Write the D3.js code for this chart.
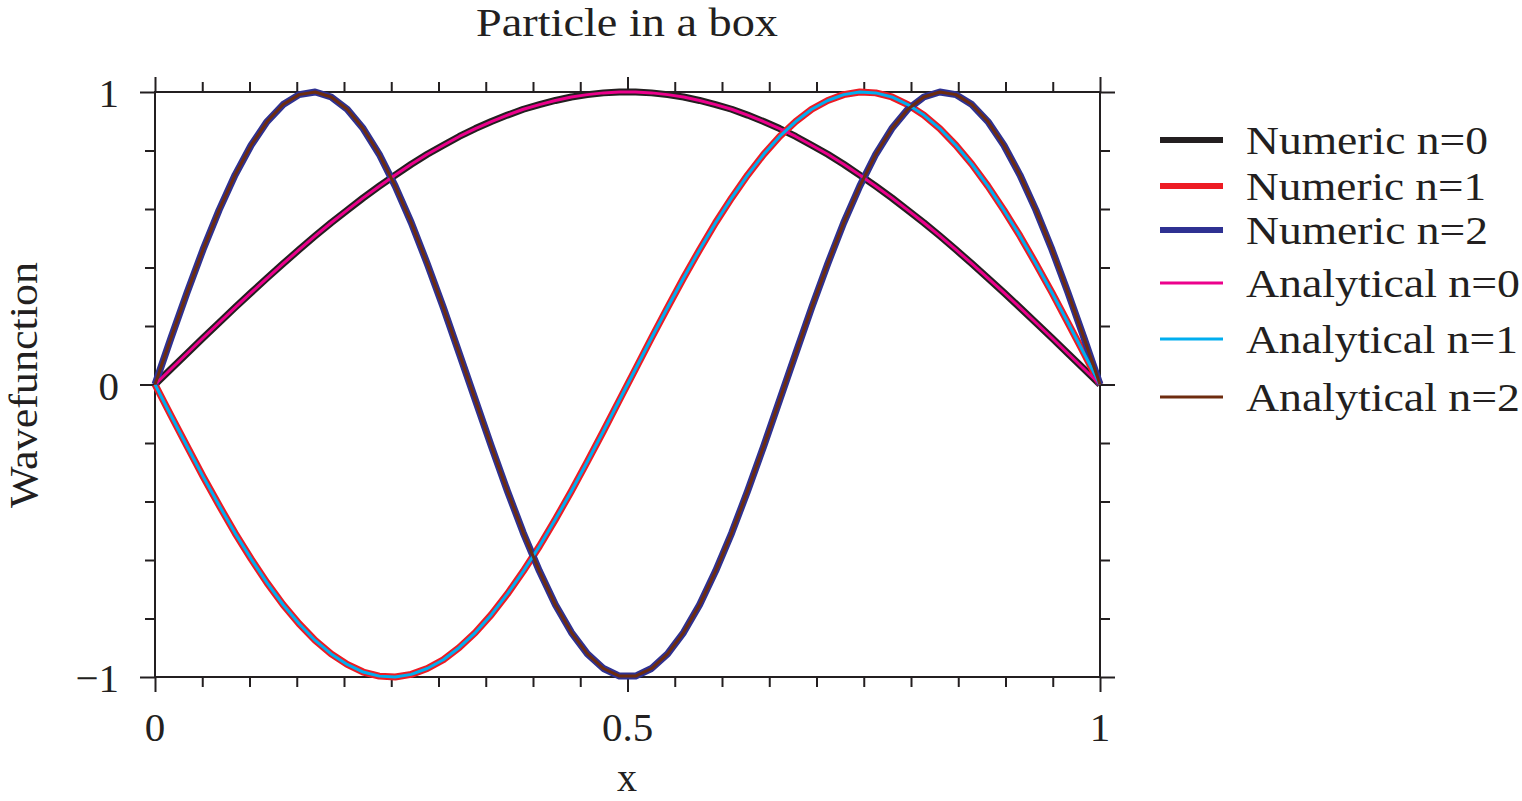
<!DOCTYPE html>
<html><head><meta charset="utf-8">
<script src="https://cdn.jsdelivr.net/npm/d3@7"></script>
<style>body{margin:0;background:#fff} svg{display:block}</style>
</head><body><svg id="c" width="1522" height="801"></svg>
<script>
// ---------- data ----------
const xValues = [0,.0169,.0339,.0508,.0678,.0847,.1017,.1186,.1356,.1525,.1695,.1864,.2034,.2203,.2373,.2542,.2712,.2881,.3051,.3220,.3390,.3559,.3729,.3898,.4068,.4237,.4407,.4576,.4746,.4915,
.5085,.5254,.5424,.5593,.5763,.5932,.6102,.6271,.6441,.6610,.6780,.6949,.7119,.7288,.7458,.7627,.7797,.7966,.8136,.8305,.8475,.8644,.8814,.8983,.9153,.9322,.9492,.9661,.9831,1];

const numeric0 = [0,.053,.106,.159,.211,.263,.314,.364,.413,.461,.508,.553,.596,.638,.678,.716,.753,.787,.818,.848,.875,.899,.921,.941,.957,.971,.983,.991,.997,1.0,
1.0,.997,.991,.983,.971,.957,.941,.921,.899,.875,.848,.818,.787,.753,.716,.678,.638,.596,.553,.508,.461,.413,.364,.314,.263,.211,.159,.106,.053,0];
const numeric1 = [0,-.106,-.211,-.314,-.413,-.508,-.596,-.678,-.753,-.818,-.875,-.921,-.957,-.983,-.997,-1.0,-.991,-.971,-.941,-.899,-.848,-.787,-.716,-.638,-.553,-.461,-.364,-.263,-.159,-.053,
.053,.159,.263,.364,.461,.553,.638,.716,.787,.848,.899,.941,.971,.991,1.0,.997,.983,.957,.921,.875,.818,.753,.678,.596,.508,.413,.314,.211,.106,0];
const numeric2 = [0,.159,.314,.461,.596,.716,.818,.899,.957,.991,1.0,.983,.941,.875,.787,.678,.553,.413,.263,.106,-.053,-.211,-.364,-.508,-.638,-.753,-.848,-.921,-.971,-.997,
-.997,-.971,-.921,-.848,-.753,-.638,-.508,-.364,-.211,-.053,.106,.263,.413,.553,.678,.787,.875,.941,.983,1.0,.991,.957,.899,.818,.716,.596,.461,.314,.159,0];
const analytical0 = [0,.053,.106,.159,.211,.263,.314,.364,.413,.461,.508,.553,.596,.638,.678,.716,.753,.787,.818,.848,.875,.899,.921,.941,.957,.971,.983,.991,.997,1.0,
1.0,.997,.991,.983,.971,.957,.941,.921,.899,.875,.848,.818,.787,.753,.716,.678,.638,.596,.553,.508,.461,.413,.364,.314,.263,.211,.159,.106,.053,0];
const analytical1 = [0,-.106,-.211,-.314,-.413,-.508,-.596,-.678,-.753,-.818,-.875,-.921,-.957,-.983,-.997,-1.0,-.991,-.971,-.941,-.899,-.848,-.787,-.716,-.638,-.553,-.461,-.364,-.263,-.159,-.053,
.053,.159,.263,.364,.461,.553,.638,.716,.787,.848,.899,.941,.971,.991,1.0,.997,.983,.957,.921,.875,.818,.753,.678,.596,.508,.413,.314,.211,.106,0];
const analytical2 = [0,.159,.314,.461,.596,.716,.818,.899,.957,.991,1.0,.983,.941,.875,.787,.678,.553,.413,.263,.106,-.053,-.211,-.364,-.508,-.638,-.753,-.848,-.921,-.971,-.997,
-.997,-.971,-.921,-.848,-.753,-.638,-.508,-.364,-.211,-.053,.106,.263,.413,.553,.678,.787,.875,.941,.983,1.0,.991,.957,.899,.818,.716,.596,.461,.314,.159,0];

const seriesNames = ["Numeric n=0","Numeric n=1","Numeric n=2","Analytical n=0","Analytical n=1","Analytical n=2"];
const seriesValues = [numeric0, numeric1, numeric2, analytical0, analytical1, analytical2];
const seriesColors = ["#231f20","#ed1c24","#2e3192","#ec008c","#00aeef","#6e2c0f"];

const xMajorTicks = [0, 0.5, 1];
const xTickLabels = ["0", "0.5", "1"];
const xMinorTicks = [0.05,0.1,0.15,0.2,0.25,0.3,0.35,0.4,0.45,0.55,0.6,0.65,0.7,0.75,0.8,0.85,0.9,0.95];
const yMajorTicks = [-1, 0, 1];
const yTickLabels = ["\u22121", "0", "1"];
const yMinorTicks = [-0.8,-0.6,-0.4,-0.2,0.2,0.4,0.6,0.8];

const titleText = "Particle in a box";
const xLabelText = "x";
const yLabelText = "Wavefunction";

// ---------- drawing ----------
const FONT = "'Liberation Serif','Times New Roman',serif";
const FS = 41;
const LABEL_FS = 40;
const ink = "#231f20";
const svg = d3.select("#c");
const x = d3.scaleLinear().domain([0, 1]).range([155, 1100]);
const y = d3.scaleLinear().domain([-1, 1]).range([677, 92]);

// frame
svg.append("rect")
  .attr("x", x(0)).attr("y", y(1))
  .attr("width", x(1) - x(0)).attr("height", y(-1) - y(1))
  .attr("fill", "none").attr("stroke", ink).attr("stroke-width", 2);

function ticks(axisFn, scale, values, size, transform) {
  const g = svg.append("g").attr("transform", transform)
    .call(axisFn(scale).tickValues(values).tickSize(size).tickSizeOuter(0).tickFormat(""));
  g.select(".domain").remove();
  g.selectAll("line").attr("stroke", ink).attr("stroke-width", 2);
}
ticks(d3.axisBottom, x, xMinorTicks, 10, `translate(0,${y(-1)})`);
ticks(d3.axisBottom, x, xMajorTicks, 15, `translate(0,${y(-1)})`);
ticks(d3.axisTop, x, xMinorTicks, 10, `translate(0,${y(1)})`);
ticks(d3.axisTop, x, xMajorTicks, 15, `translate(0,${y(1)})`);
ticks(d3.axisLeft, y, yMinorTicks, 10, `translate(${x(0)},0)`);
ticks(d3.axisLeft, y, yMajorTicks, 15, `translate(${x(0)},0)`);
ticks(d3.axisRight, y, yMinorTicks, 10, `translate(${x(1)},0)`);
ticks(d3.axisRight, y, yMajorTicks, 15, `translate(${x(1)},0)`);

// tick labels
svg.append("g").selectAll("text").data(xMajorTicks).join("text")
  .attr("x", d => x(d)).attr("y", 741)
  .attr("text-anchor", "middle")
  .attr("font-family", FONT).attr("font-size", FS).attr("fill", ink)
  .text((d, i) => xTickLabels[i]);
svg.append("g").selectAll("text").data(yMajorTicks).join("text")
  .attr("x", 119).attr("y", d => y(d) + 15)
  .attr("text-anchor", "end")
  .attr("font-family", FONT).attr("font-size", FS).attr("fill", ink)
  .text((d, i) => yTickLabels[i]);

// curves
const line = d3.line().x((d, i) => x(xValues[i])).y(d => y(d));
const plot = svg.append("g");
seriesValues.forEach((vals, k) => {
  plot.append("path").datum(vals)
    .attr("d", line)
    .attr("fill", "none")
    .attr("stroke", seriesColors[k])
    .attr("stroke-width", k < 3 ? 7 : 3)
    .attr("stroke-linejoin", "round")
    .attr("stroke-linecap", "butt");
});

// legend
const legendRowY = [140, 186, 230, 283, 339, 397];
const legendTextLen = [242, 240, 242, 274, 272, 274];
const lg = svg.append("g");
seriesNames.forEach((name, k) => {
  const cy = legendRowY[k];
  lg.append("line").attr("x1", 1160).attr("x2", 1223).attr("y1", cy).attr("y2", cy)
    .attr("stroke", seriesColors[k]).attr("stroke-width", k < 3 ? 6 : 2.8);
  lg.append("text").attr("x", 1246).attr("y", cy + 14)
    .attr("font-family", FONT).attr("font-size", FS).attr("fill", ink)
    .attr("textLength", legendTextLen[k]).attr("lengthAdjust", "spacingAndGlyphs")
    .text(name);
});

// title and axis labels
svg.append("text").attr("x", 627).attr("y", 36).attr("text-anchor", "middle")
  .attr("font-family", FONT).attr("font-size", LABEL_FS).attr("fill", ink)
  .attr("textLength", 302).attr("lengthAdjust", "spacingAndGlyphs")
  .text(titleText);
svg.append("text").attr("x", 627).attr("y", 791).attr("text-anchor", "middle")
  .attr("font-family", FONT).attr("font-size", LABEL_FS).attr("fill", ink)
  .text(xLabelText);
svg.append("text").attr("transform", "translate(37,385) rotate(-90)")
  .attr("text-anchor", "middle")
  .attr("font-family", FONT).attr("font-size", LABEL_FS).attr("fill", ink)
  .attr("textLength", 246).attr("lengthAdjust", "spacingAndGlyphs")
  .text(yLabelText);
</script>
</body></html>
